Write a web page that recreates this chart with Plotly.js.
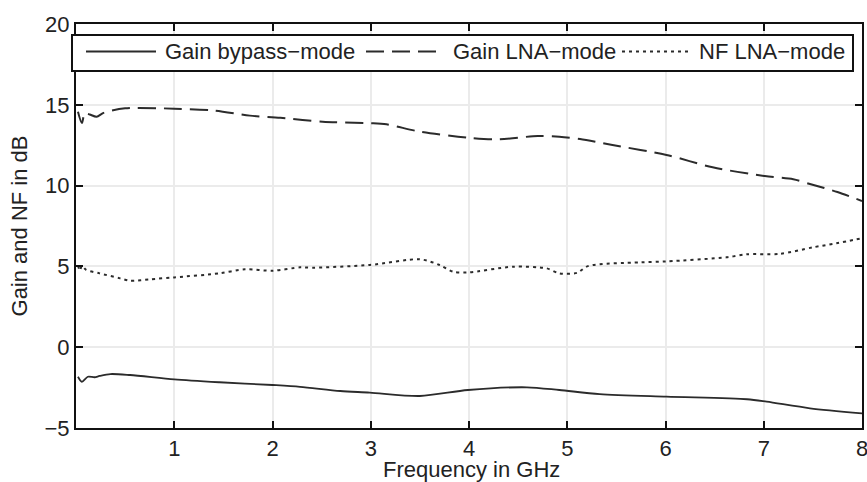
<!DOCTYPE html>
<html>
<head>
<meta charset="utf-8">
<script src="https://cdn.plot.ly/plotly-3.0.1.min.js"></script>
<style>html,body{margin:0;padding:0;background:#fff;}#chart{width:867px;height:482px;}</style>
</head>
<body>
<div id="chart"></div>
<script>
// ---- data ----
var freqBypass = [0.02,0.06,0.12,0.19,0.24,0.35,0.55,1.0,1.46,2.0,2.28,2.69,2.99,3.5,3.99,4.59,4.92,5.33,6.01,6.83,7.03,7.47,8.0];
var gainBypass = [-1.83,-2.14,-1.83,-1.86,-1.78,-1.66,-1.72,-1.99,-2.17,-2.34,-2.45,-2.71,-2.81,-3.02,-2.65,-2.48,-2.65,-2.9,-3.06,-3.22,-3.37,-3.78,-4.09];

var freqLNA = [0.02,0.06,0.09,0.14,0.21,0.28,0.5,1.0,1.41,1.77,2.08,2.51,2.99,3.16,3.5,3.99,4.28,4.7,4.92,5.13,5.46,6.01,6.48,7.01,7.3,7.47,7.75,8.0];
var gainLNA = [14.57,13.87,14.5,14.4,14.26,14.5,14.78,14.76,14.64,14.33,14.2,13.95,13.86,13.79,13.34,12.96,12.86,13.07,13.03,12.88,12.51,11.9,11.13,10.59,10.39,10.1,9.6,9.05];

var freqNF = [0.02,0.04,0.06,0.1,0.24,0.45,0.55,0.75,1.0,1.46,1.72,2.0,2.28,2.41,2.99,3.5,3.7,3.84,3.99,4.45,4.79,4.92,5.1,5.21,5.74,6.01,6.62,6.83,7.16,7.5,7.74,8.0];
var nfLNA = [5.05,4.75,5.05,4.8,4.57,4.26,4.11,4.2,4.32,4.57,4.82,4.73,4.94,4.92,5.09,5.44,5.09,4.67,4.63,4.98,4.88,4.57,4.6,5.02,5.25,5.31,5.56,5.75,5.77,6.18,6.43,6.74];

var seriesNames = ['Gain bypass\u2212mode','Gain LNA\u2212mode','NF LNA\u2212mode'];
var xTicks = [1,2,3,4,5,6,7,8];
var yTicks = [-5,0,5,10,15,20];
var xTitle = 'Frequency in GHz';
var yTitle = 'Gain and NF in dB';

// ---- layout helpers ----
var W = 867, H = 482, L = 76, R = 5, T = 24, B = 54;
var pw = W - L - R, ph = H - T - B;
function px(x){ return (x - L) / pw; }
function py(y){ return (H - B - y) / ph; }

var lineColor = '#2b2b2b';
var FONT = 'Liberation Sans, Arial, Helvetica, sans-serif';
var dashes = ['solid','18px,8px','3px,4px'];

var traces = [
  {x: freqBypass, y: gainBypass, name: seriesNames[0], mode:'lines', line:{color:lineColor, width:1.8, dash:dashes[0], shape:'spline', smoothing:0.8}},
  {x: freqLNA, y: gainLNA, name: seriesNames[1], mode:'lines', line:{color:lineColor, width:2, dash:dashes[1], shape:'spline', smoothing:0.8}},
  {x: freqNF, y: nfLNA, name: seriesNames[2], mode:'lines', line:{color:lineColor, width:2, dash:dashes[2], shape:'spline', smoothing:0.8}}
];

var legY = py(51.5);
var shapes = [
  {type:'rect', xref:'paper', yref:'paper', x0:px(72), x1:px(853), y0:py(71), y1:py(35), fillcolor:'#ffffff', line:{color:'#111', width:2}, layer:'above'},
  {type:'line', xref:'paper', yref:'paper', x0:px(86), x1:px(156), y0:legY, y1:legY, line:{color:lineColor, width:1.8, dash:dashes[0]}, layer:'above'},
  {type:'line', xref:'paper', yref:'paper', x0:px(366), x1:px(440), y0:legY, y1:legY, line:{color:lineColor, width:2, dash:dashes[1]}, layer:'above'},
  {type:'line', xref:'paper', yref:'paper', x0:px(622), x1:px(690), y0:legY, y1:legY, line:{color:lineColor, width:2, dash:dashes[2]}, layer:'above'}
];
var txtFont = {family:FONT, size:22, color:'#222'};
var annotations = [
  {xref:'paper', yref:'paper', x:px(163), y:legY, xanchor:'left', yanchor:'middle', text:seriesNames[0], showarrow:false, font:txtFont},
  {xref:'paper', yref:'paper', x:px(618), y:legY, xanchor:'right', yanchor:'middle', text:seriesNames[1], showarrow:false, font:txtFont},
  {xref:'paper', yref:'paper', x:px(697), y:legY, xanchor:'left', yanchor:'middle', text:seriesNames[2], showarrow:false, font:txtFont},
  {xref:'paper', yref:'paper', x:px(471), y:py(469), xanchor:'center', yanchor:'middle', text:xTitle, showarrow:false, font:txtFont, borderpad:0}
];

var axisCommon = {
  showline:true, linecolor:'#111', linewidth:2, mirror:'ticks',
  ticks:'inside', ticklen:7, tickwidth:2, tickcolor:'#111',
  showgrid:true, gridcolor:'#ebebeb', gridwidth:2, zeroline:false,
  ticklabeloverflow:'allow',
  tickfont:{family:FONT, size:22, color:'#222'}
};

var layout = {
  width:W, height:H,
  margin:{l:L, r:R, t:T, b:B, pad:0},
  paper_bgcolor:'#ffffff', plot_bgcolor:'#ffffff',
  showlegend:false,
  font:{family:FONT, color:'#222'},
  xaxis: Object.assign({}, axisCommon, {
    range:[0,8], tickmode:'array', tickvals:xTicks, ticktext:xTicks.map(String),
    automargin:false
  }),
  yaxis: Object.assign({}, axisCommon, {
    range:[-5,20], tickmode:'array', tickvals:yTicks,
    title:{text:yTitle, font:{family:FONT, size:22, color:'#222'}, standoff:11},
    automargin:false
  }),
  shapes: shapes,
  annotations: annotations
};

Plotly.newPlot('chart', traces, layout, {staticPlot:true, displayModeBar:false});
</script>
</body>
</html>
